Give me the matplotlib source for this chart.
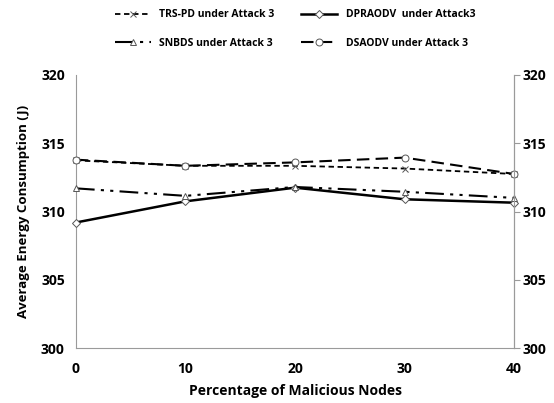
import matplotlib.pyplot as plt

plt.rcParams['font.family'] = ['Open Sans', 'DejaVu Sans']

# Data
x_vals = [0, 10, 20, 30, 40]
trs_pd = [313.75, 313.35, 313.35, 313.15, 312.75]
dpraodv = [309.2, 310.75, 311.75, 310.9, 310.65]
snbds = [311.7, 311.15, 311.8, 311.45, 311.0]
dsaodv = [313.8, 313.35, 313.6, 313.95, 312.75]

y_ticks = [300, 305, 310, 315, 320]
x_ticks = [0, 10, 20, 30, 40]

fig = plt.figure(figsize=(5.54, 4.03), dpi=100)
ax = fig.add_axes([0.137, 0.136, 0.791, 0.678])

grey = '#9a9a9a'
mk = dict(markersize=5, markerfacecolor='white', markeredgecolor='#555555',
          markeredgewidth=0.7, clip_on=False, zorder=3)

l1, = ax.plot(x_vals, trs_pd, color='black', lw=1.3, dashes=(3, 2),
              marker='x', label='TRS-PD under Attack 3', **mk)
l2, = ax.plot(x_vals, dpraodv, color='black', lw=1.8, ls='-',
              marker='D', label='DPRAODV  under Attack3',
              **dict(mk, markersize=4.5))
l3, = ax.plot(x_vals, snbds, color='black', lw=1.5,
              dashes=(9, 3, 1.5, 3, 1.5, 3),
              marker='^', label='SNBDS under Attack 3', **mk)
l4, = ax.plot(x_vals, dsaodv, color='black', lw=1.5, dashes=(6, 3),
              marker='o', label='DSAODV under Attack 3', **mk)

ax.set_xlim(0, 40)
ax.set_ylim(300, 320)
ax.set_xticks(x_ticks)
ax.set_yticks(y_ticks)
ax.spines['top'].set_visible(False)
for side in ['left', 'bottom', 'right']:
    ax.spines[side].set_color(grey)
ax.tick_params(axis='x', length=0, pad=10, labelsize=10)
ax.tick_params(axis='y', length=0, pad=8, labelsize=10)
for lab in ax.get_xticklabels() + ax.get_yticklabels():
    lab.set_fontweight('bold')

# secondary axis on the right, same scale
ax2 = ax.twinx()
ax2.set_ylim(300, 320)
ax2.set_yticks(y_ticks)
for side in ['top', 'left', 'bottom']:
    ax2.spines[side].set_visible(False)
ax2.spines['right'].set_color(grey)
ax2.tick_params(axis='y', length=4, color=grey, pad=2, labelsize=10)
for lab in ax2.get_yticklabels():
    lab.set_fontweight('bold')

ax.set_xlabel('Percentage of Malicious Nodes', fontsize=10, fontweight='bold',
              labelpad=6)
ax.set_ylabel('Average Energy Consumption (J)', fontsize=9.5,
              fontweight='bold', labelpad=8)

fig.legend([l1, l3, l2, l4],
           [l1.get_label(), l3.get_label(), l2.get_label(), l4.get_label()],
           ncol=2, loc='upper left', bbox_to_anchor=(0.19, 1.0),
           frameon=False, prop={'weight': 'bold', 'size': 7.5},
           handlelength=3.5, labelspacing=1.7, columnspacing=2.5)

fig.savefig('out.png', dpi=100)
